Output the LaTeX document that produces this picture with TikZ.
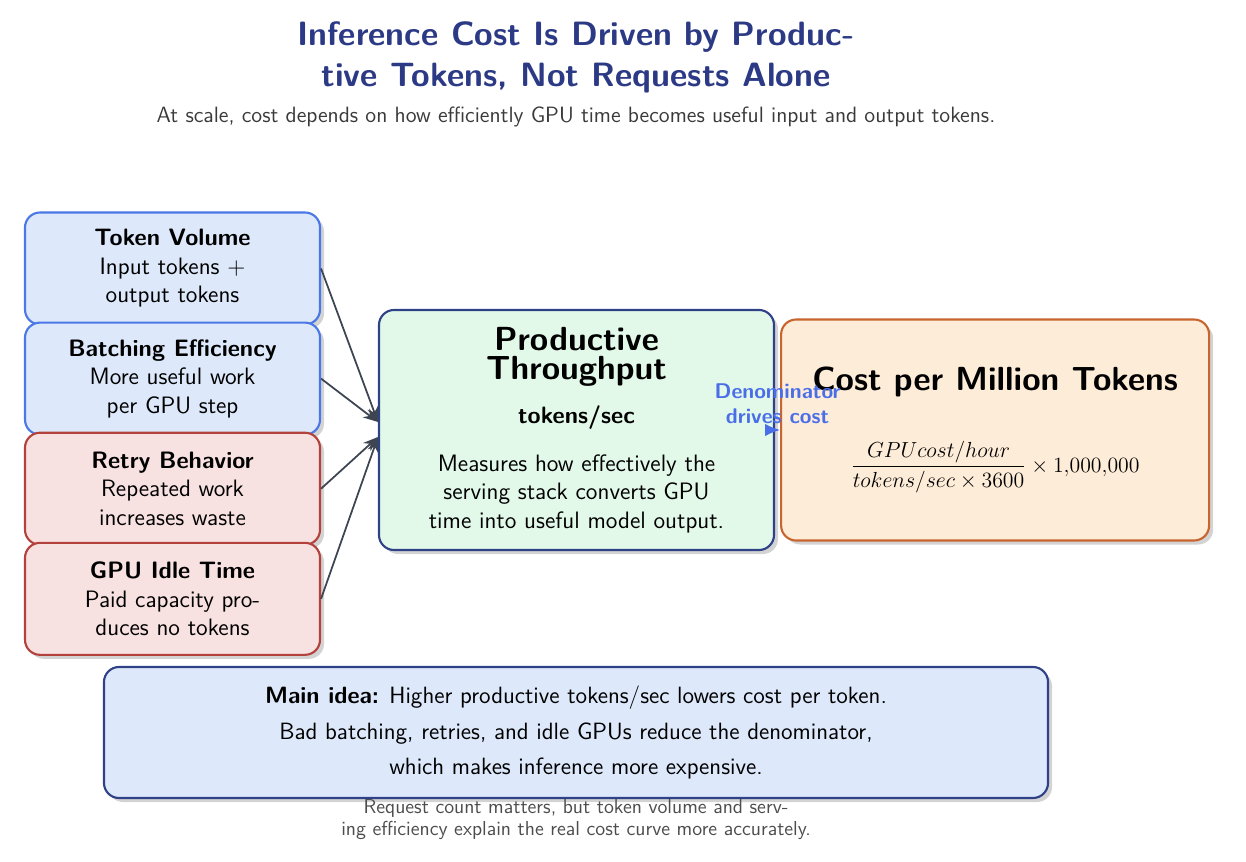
\documentclass[tikz,border=0pt]{standalone}
\usepackage{fix-cm}
\usepackage{amsmath}
\usepackage{fontspec}
\usepackage{tikz}
\usetikzlibrary{positioning}
\usetikzlibrary{shadows}
\usetikzlibrary{arrows.meta}
\renewcommand{\familydefault}{\sfdefault}

\definecolor{titleblue}{HTML}{2C3A86}
\definecolor{subgray}{HTML}{3A3A3A}
\definecolor{capgray}{HTML}{4D4D4D}
\definecolor{lightblue}{HTML}{DDE8FA}
\definecolor{edgeblue}{HTML}{4A78E6}
\definecolor{lightred}{HTML}{F8E1E1}
\definecolor{edgered}{HTML}{B3423D}
\definecolor{lightgreen}{HTML}{E2F8E9}
\definecolor{edgenavy}{HTML}{2F4288}
\definecolor{lightorange}{HTML}{FDECD8}
\definecolor{edgeorange}{HTML}{C8642D}
\definecolor{arrowgray}{HTML}{3D4452}
\definecolor{denomblue}{HTML}{4A6EE8}

\tikzset{
  card/.style={draw, line width=1.2pt, rounded corners=0.3cm, align=center,
    font=\fontsize{13.5}{16.2}\selectfont,
    drop shadow={shadow xshift=0.08cm, shadow yshift=-0.08cm, opacity=0.35}},
  factor/.style={card, minimum width=5.9cm, minimum height=2.24cm},
  goodfactor/.style={factor, draw=edgeblue, fill=lightblue},
  badfactor/.style={factor, draw=edgered, fill=lightred},
  feed/.style={-{Stealth[length=0.3cm, width=0.22cm]}, draw=arrowgray, line width=1pt},
}

\begin{document}
\begin{tikzpicture}

	\useasboundingbox (0,0) rectangle (24.92,-17.24);
	% Title %
	\node (title) [align=center, text=titleblue, font=\fontsize{19.2}{23.6}\selectfont\bfseries] at (11.52,-1.15)
		{Inference Cost Is Driven by Produc-\\tive Tokens, Not Requests Alone};
	\node (subtitle) [text=subgray, font=\fontsize{12.6}{14}\selectfont] at (11.52,-2.34)
		{At scale, cost depends on how efficiently GPU time becomes useful input and output tokens.};
	% Factors %
	\node (volume) [goodfactor] at (3.45,-5.37)
		{\textbf{Token Volume}\\Input tokens $+$\\output tokens};
	\node (batching) [goodfactor, below=-0.08cm of volume]
		{\textbf{Batching Efficiency}\\More useful work\\per GPU step};
	\node (retry) [badfactor, below=-0.08cm of batching]
		{\textbf{Retry Behavior}\\Repeated work\\increases waste};
	\node (idle) [badfactor, below=-0.08cm of retry]
		{\textbf{GPU Idle Time}\\Paid capacity pro-\\duces no tokens};
	% Throughput %
	\node (throughput) [card, draw=edgenavy, fill=lightgreen, minimum width=7.9cm, minimum height=4.8cm] at (11.53,-8.6)
		{{\fontsize{19}{16}\selectfont\bfseries Productive}\\[0.5pt]{\fontsize{19}{16}\selectfont\bfseries Throughput}\\[8.5pt]\textbf{tokens/sec}\\[11pt]Measures how effectively the\\serving stack converts GPU\\time into useful model output.};
	% Cost %
	\node (cost) [card, draw=edgeorange, fill=lightorange, minimum width=8.56cm, minimum height=4.42cm, right=0.1cm of throughput]
		{{\fontsize{19}{16}\selectfont\bfseries Cost per Million Tokens}\\[24pt]{\fontsize{12.4}{15}\selectfont$\dfrac{GPU cost/hour}{tokens/sec \times 3600} \times 1{,}000{,}000$}};
	% Arrows %
	\draw [feed] (volume.east) -- ([yshift=0.16cm]throughput.west);
	\draw [feed] (batching.east) -- ([yshift=0.16cm]throughput.west);
	\draw [feed] (retry.east) -- ([yshift=-0.14cm]throughput.west);
	\draw [feed] (idle.east) -- ([yshift=-0.14cm]throughput.west);
	\draw [-{Latex[length=0.3cm, width=0.25cm]}, draw=denomblue, line width=1pt] (throughput.east) -- (cost.west)
		node (denomlabel) [midway, above, align=center, text=denomblue, font=\fontsize{12.1}{14.2}\selectfont\bfseries] {Denominator\\drives cost};
	% Main idea %
	\node (idea) [card, draw=edgenavy, fill=lightblue, minimum width=18.88cm, minimum height=2.62cm, font=\fontsize{13.4}{20.2}\selectfont] at (11.52,-14.65)
		{\textbf{Main idea:} Higher productive tokens/sec lowers cost per token.\\Bad batching, retries, and idle GPUs reduce the denominator,\\which makes inference more expensive.};
	\node (caption) [align=center, text=capgray, font=\fontsize{11.5}{12.5}\selectfont] at (11.52,-16.4)
		{Request count matters, but token volume and serv-\\ing efficiency explain the real cost curve more accurately.};
\end{tikzpicture}
\end{document}
